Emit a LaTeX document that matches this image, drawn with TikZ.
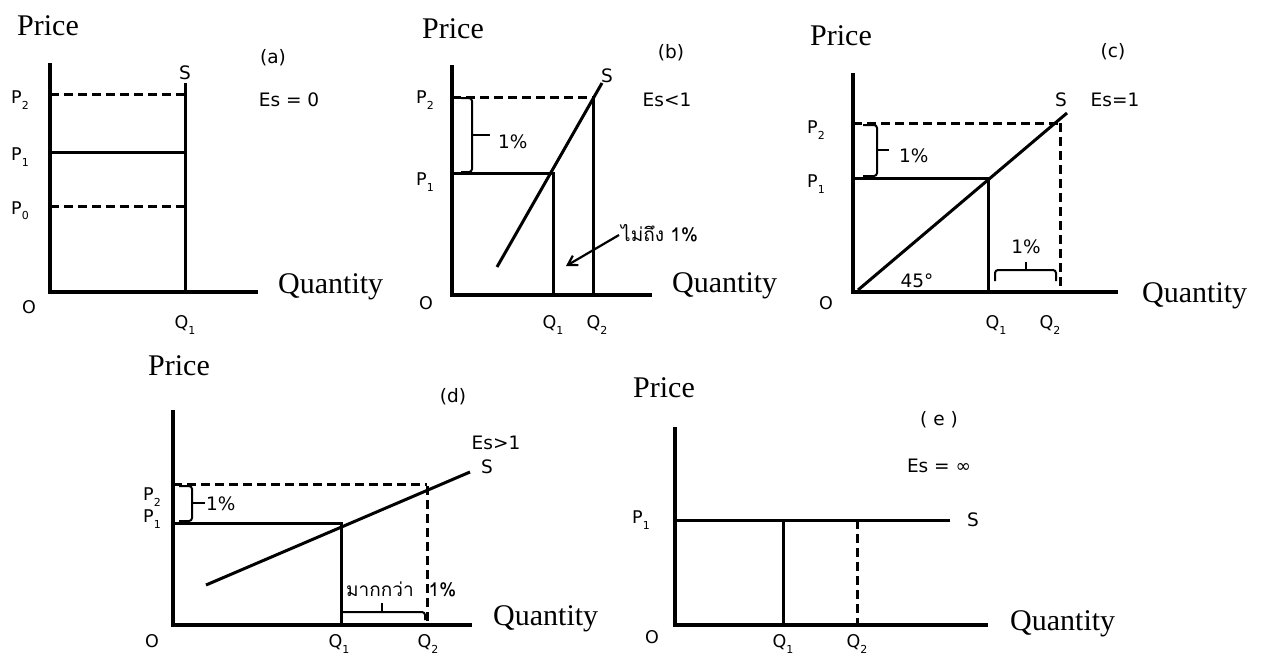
\documentclass[tikz,border=0pt]{standalone}
\usepackage{fontspec}
\setmainfont{Liberation Serif}
\newfontfamily\lbl{DejaVu Sans}
\newfontfamily\thaifont[Script=Thai]{Loma}
\usetikzlibrary{arrows.meta}
\newcommand\sbs[1]{\raisebox{-0.3em}{\fontsize{11}{11}\selectfont #1}}
\begin{document}
\begin{tikzpicture}[x=1pt,y=-1pt,
 axis/.style={line width=4pt},
 curve/.style={line width=3pt},
 dsh/.style={line width=3pt, dash pattern=on 9pt off 5pt},
 brc/.style={line width=2pt, rounded corners=3pt},
 big/.style={font=\fontsize{30}{30}\selectfont, inner sep=0pt, anchor=base west},
 lab/.style={font=\lbl\fontsize{18.5}{18.5}\selectfont, inner sep=0pt},
 plab/.style={font=\lbl\fontsize{17.5}{17.5}\selectfont, inner sep=0pt, anchor=west},
 qlab/.style={font=\lbl\fontsize{17.5}{17.5}\selectfont, inner sep=0pt},
 thai/.style={font=\thaifont\fontsize{19}{19}\selectfont, inner sep=0pt, anchor=west}]
\useasboundingbox (0,0) rectangle (1265,657);

% ---------------- panel (a)
\coordinate (aO) at (50,292); \coordinate (aT) at (50,63); \coordinate (aX) at (258,292);
\coordinate (aS) at (185,83); \coordinate (aQ1) at (185,292);
\coordinate (aP2) at (50,94); \coordinate (aP2r) at (185,94);
\coordinate (aP1) at (50,152); \coordinate (aP1r) at (185,152);
\coordinate (aP0) at (50,206); \coordinate (aP0r) at (185,206);
\draw[dsh] (aP2) -- (aP2r);
\draw[dsh] (aP0) -- (aP0r);
\draw[curve] (aP1) -- (aP1r);
\draw[curve] (aS) -- (aQ1);
\draw[axis] (aT) -- (aO) -- (aX);
\node[big] (aPrice) at (17,35) {Price};
\node[big] (aQty) at (278,293) {Quantity};
\node[lab] (aS-l) at (185,73) {S};
\node[lab] (aLet) at (273,58) {(a)};
\node[lab] (aEs) at (289,100) {Es = 0};
\node[plab] (aP2-l) at (11,100) {P\sbs{2}};
\node[plab] (aP1-l) at (11,157) {P\sbs{1}};
\node[plab] (aP0-l) at (11,211) {P\sbs{0}};
\node[qlab] (aO-l) at (29,307) {O};
\node[qlab] (aQ1-l) at (185,325) {Q\sbs{1}};

% ---------------- panel (b)
\coordinate (bO) at (452,295); \coordinate (bT) at (452,65); \coordinate (bX) at (652,295);
\coordinate (bSa) at (497,267); \coordinate (bSb) at (602,83);
\coordinate (bQ1t) at (553,173); \coordinate (bQ1) at (553,295);
\coordinate (bQ2t) at (593,97); \coordinate (bQ2) at (593,295);
\coordinate (bP2) at (452,97); \coordinate (bP1) at (452,173);
\draw[dsh] (bP2) -- (bQ2t);
\draw[curve] (bP1) -- (bQ1t) -- (bQ1);
\draw[curve] (bQ2t) -- (bQ2);
\draw[curve] (bSa) -- (bSb);
\draw[axis] (bT) -- (bO) -- (bX);
\coordinate (bBt) at (461,98); \coordinate (bBb) at (461,172);
\coordinate (bBm) at (472,135); \coordinate (bBtip) at (490,135);
\draw[brc] (bBt) -| (472,172) -- (bBb);
\draw[line width=2pt] (bBm) -- (bBtip);
\node[lab,anchor=west] (b1p) at (498,142) {1\%};
\node[thai] (bThai) at (621,233) {ไม่ถึง 1\%};
\draw[line width=2.2pt, -{Straight Barb[length=9pt,width=11pt]}] (bThai.west) ++(-2,2) coordinate (bAs) -- (566,266) coordinate (bAe);
\node[big] (bPrice) at (422,38) {Price};
\node[big] (bQty) at (672,292) {Quantity};
\node[lab] (bS-l) at (607,76) {S};
\node[lab] (bLet) at (671,53) {(b)};
\node[lab] (bEs) at (667,100) {Es<1};
\node[plab] (bP2-l) at (416,100) {P\sbs{2}};
\node[plab] (bP1-l) at (416,182) {P\sbs{1}};
\node[qlab] (bO-l) at (426,303) {O};
\node[qlab] (bQ1-l) at (553,325) {Q\sbs{1}};
\node[qlab] (bQ2-l) at (597,325) {Q\sbs{2}};

% ---------------- panel (c)
\coordinate (cO) at (853,292); \coordinate (cT) at (853,73); \coordinate (cX) at (1118,292);
\coordinate (cSa) at (858,290); \coordinate (cSb) at (1067,113);
\coordinate (cQ1t) at (988,178); \coordinate (cQ1) at (988,292);
\coordinate (cQ2t) at (1060,123); \coordinate (cQ2) at (1060,292);
\coordinate (cP2) at (853,123); \coordinate (cP1) at (853,178);
\draw[dsh] (cP2) -- (cQ2t);
\draw[dsh] (cQ2t) -- (cQ2);
\draw[curve] (cP1) -- (cQ1t) -- (cQ1);
\draw[curve] (cSa) -- (cSb);
\draw[axis] (cT) -- (cO) -- (cX);
\coordinate (cBt) at (863,125); \coordinate (cBb) at (863,176);
\draw[brc] (cBt) -| (877,176) -- (cBb);
\coordinate (cBm) at (877,150); \coordinate (cBtip) at (889,150);
\draw[line width=2pt] (cBm) -- (cBtip);
\node[lab,anchor=west] (c1p) at (899,156) {1\%};
\coordinate (cHl) at (995,281); \coordinate (cHr) at (1056,281);
\draw[brc] (cHl) |- (1056,270) -- (cHr);
\coordinate (cHm) at (1026,270); \coordinate (cHtip) at (1026,262);
\draw[line width=2pt] (cHm) -- (cHtip);
\node[lab] (c1pb) at (1026,247) {1\%};
\node[lab] (c45) at (917,281) {45°};
\node[big] (cPrice) at (810,45) {Price};
\node[big] (cQty) at (1142,302) {Quantity};
\node[lab] (cS-l) at (1061,100) {S};
\node[lab] (cLet) at (1113,52) {(c)};
\node[lab] (cEs) at (1115,100) {Es=1};
\node[plab] (cP2-l) at (807,130) {P\sbs{2}};
\node[plab] (cP1-l) at (807,184) {P\sbs{1}};
\node[qlab] (cO-l) at (826,303) {O};
\node[qlab] (cQ1-l) at (996,325) {Q\sbs{1}};
\node[qlab] (cQ2-l) at (1050,325) {Q\sbs{2}};

% ---------------- panel (d)
\coordinate (dO) at (173,625); \coordinate (dT) at (173,410); \coordinate (dX) at (472,625);
\coordinate (dSa) at (206,585); \coordinate (dSb) at (470,472);
\coordinate (dQ1t) at (341,523); \coordinate (dQ1) at (341,625);
\coordinate (dQ2t) at (427,486); \coordinate (dQ2) at (427,625);
\coordinate (dP2) at (173,484); \coordinate (dP1) at (173,523);
\coordinate (dP2r) at (427,484);
\draw[dsh] (dP2) -- (dP2r);
\draw[dsh] (dQ2t) -- (dQ2);
\draw[curve] (dP1) -- (dQ1t) -- (dQ1);
\draw[curve] (dSa) -- (dSb);
\draw[axis] (dT) -- (dO) -- (dX);
\coordinate (dBt) at (179,486); \coordinate (dBb) at (179,521);
\draw[brc] (dBt) -| (192,521) -- (dBb);
\coordinate (dBm) at (192,503); \coordinate (dBtip) at (205,503);
\draw[line width=2pt] (dBm) -- (dBtip);
\node[lab,anchor=west] (d1p) at (206,504) {1\%};
\coordinate (dHl) at (343,612); \coordinate (dHr) at (425,620);
\draw[brc] (dHl) -- (425,612) -- (dHr);
\coordinate (dHm) at (382,612); \coordinate (dHtip) at (382,603);
\draw[line width=2pt] (dHm) -- (dHtip);
\node[thai] (dThai) at (346,589) {มากกว่า\hspace{15pt}1\%};
\node[big] (dPrice) at (148,375) {Price};
\node[big] (dQty) at (493,625) {Quantity};
\node[lab] (dS-l) at (487,467) {S};
\node[lab] (dLet) at (453,397) {(d)};
\node[lab] (dEs) at (496,443) {Es>1};
\node[plab] (dP2-l) at (143,497) {P\sbs{2}};
\node[plab] (dP1-l) at (143,519) {P\sbs{1}};
\node[qlab] (dO-l) at (152,641) {O};
\node[qlab] (dQ1-l) at (339,644) {Q\sbs{1}};
\node[qlab] (dQ2-l) at (428,644) {Q\sbs{2}};

% ---------------- panel (e)
\coordinate (eO) at (675,625); \coordinate (eT) at (675,427); \coordinate (eX) at (988,625);
\coordinate (eP1) at (675,520); \coordinate (eSr) at (950,520);
\coordinate (eQ1t) at (783,520); \coordinate (eQ1) at (783,625);
\coordinate (eQ2t) at (857,520); \coordinate (eQ2) at (857,625);
\draw[curve] (eP1) -- (eSr);
\draw[curve] (eQ1t) -- (eQ1);
\draw[dsh] (eQ2t) -- (eQ2);
\draw[axis] (eT) -- (eO) -- (eX);
\node[big] (ePrice) at (633,397) {Price};
\node[big] (eQty) at (1010,630) {Quantity};
\node[lab] (eS-l) at (973,520) {S};
\node[lab] (eLet) at (939,420) {( e )};
\node[lab] (eEs) at (939,466) {Es = ∞};
\node[plab] (eP1-l) at (632,520) {P\sbs{1}};
\node[qlab] (eO-l) at (652,637) {O};
\node[qlab] (eQ1-l) at (783,644) {Q\sbs{1}};
\node[qlab] (eQ2-l) at (857,644) {Q\sbs{2}};
\end{tikzpicture}
\end{document}
